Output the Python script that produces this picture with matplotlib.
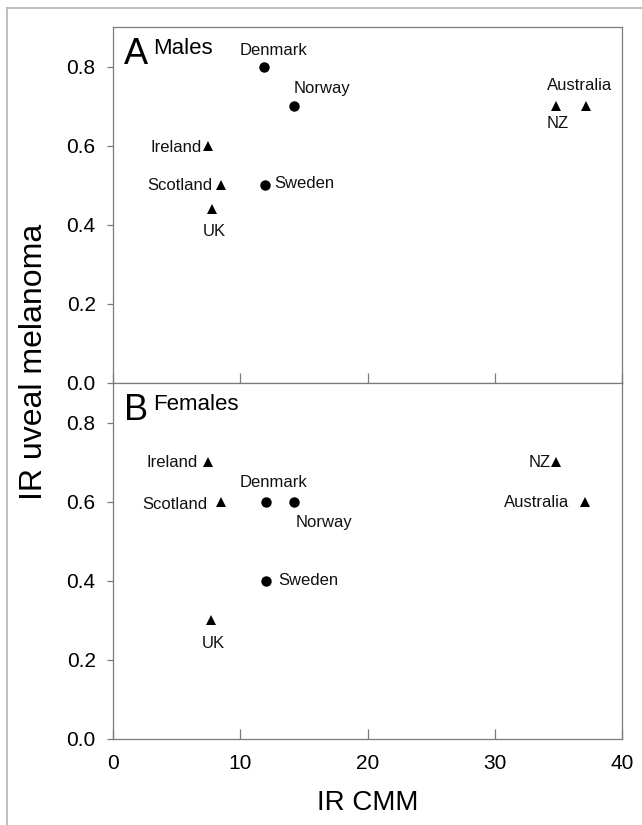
import matplotlib
matplotlib.use("Agg")
import matplotlib.pyplot as plt
from matplotlib.lines import Line2D

plt.rcParams["font.family"] = ["Liberation Sans", "DejaVu Sans"]

# ---------- data ----------
countries = ["Denmark", "Norway", "Sweden", "Ireland", "Scotland", "UK", "NZ", "Australia"]
nordic = ["Denmark", "Norway", "Sweden"]          # drawn as circles, rest triangles

cmm_males = [11.9, 14.2, 11.95, 7.5, 8.45, 7.75, 34.8, 37.2]
uveal_males = [0.80, 0.70, 0.50, 0.60, 0.50, 0.44, 0.70, 0.70]

cmm_females = [12.0, 14.2, 12.0, 7.5, 8.5, 7.7, 34.85, 37.1]
uveal_females = [0.60, 0.60, 0.40, 0.70, 0.60, 0.30, 0.70, 0.60]

yticks = [0.0, 0.2, 0.4, 0.6, 0.8]
xticks = [0, 10, 20, 30, 40]

# ---------- label placement (pixel offsets from marker, baseline) ----------
LAB_M = {"Denmark": (9.5, 12, "center"), "Norway": (28.7, 12.7, "center"),
         "Sweden": (9.7, -2.7, "left"), "Ireland": (-6.3, -6.7, "right"),
         "Scotland": (-8, -5, "right"), "UK": (3, -27.3, "center"),
         "NZ": (1.8, -22, "center"), "Australia": (-7.2, 16.4, "center")}
LAB_F = {"Denmark": (8.2, 15, "center"), "Norway": (30.3, -25, "center"),
         "Sweden": (12.3, -4, "left"), "Ireland": (-11, -5, "right"),
         "Scotland": (-13.4, -7.3, "right"), "UK": (2.5, -27.3, "center"),
         "NZ": (-6.2, -5, "right"), "Australia": (-15.5, -5.7, "right")}

SPINE = "#7a7a7a"
W, H = 642, 825
fig = plt.figure(figsize=(W / 100, H / 100), dpi=100)

# outer light frame (left + top lines)
fig.add_artist(Line2D([7 / W, 7 / W], [0, 1 - 8 / H], transform=fig.transFigure,
                      color="#b4b4b4", lw=1.2))
fig.add_artist(Line2D([7 / W, 1], [1 - 8 / H, 1 - 8 / H], transform=fig.transFigure,
                      color="#b4b4b4", lw=1.2))

left, width = 113 / W, (622 - 113) / W
ph = (383 - 27) / H
ax_top = fig.add_axes([left, 1 - 383 / H, width, ph])
ax_bot = fig.add_axes([left, 1 - 739 / H, width, ph])


def panel(ax, xs, ys, labels, letter, word, show_x):
    for c, x, y in zip(countries, xs, ys):
        mk = "o" if c in nordic else "^"
        ax.plot(x, y, marker=mk, ms=7.5, color="black", mew=0, ls="none")
        dx, dy, ha = labels[c]
        ax.annotate(c, (x, y), xytext=(dx, dy), textcoords="offset pixels",
                    ha=ha, va="baseline", fontsize=12, color="#111111")
    ax.set_xlim(0, 40)
    ax.set_ylim(0, 0.9)
    ax.set_yticks(yticks)
    ax.set_yticklabels([f"{v:.1f}" for v in yticks])
    ax.set_xticks(xticks)
    if show_x:
        ax.set_xticklabels([str(v) for v in xticks])
    else:
        ax.set_xticklabels([])
    ax.tick_params(axis="y", direction="out", length=4, width=0.9, color=SPINE,
                   pad=8.5, labelsize=15)
    ax.tick_params(axis="x", direction="in", length=7, width=0.9, color=SPINE,
                   pad=10.5, labelsize=15)
    for s in ax.spines.values():
        s.set_color(SPINE)
        s.set_linewidth(0.9)
    ax.annotate(letter, (0, 1), xycoords="axes fraction", xytext=(11, -37),
                textcoords="offset pixels", ha="left", va="baseline", fontsize=26)
    ax.annotate(word, (0, 1), xycoords="axes fraction", xytext=(40.5, -27.5),
                textcoords="offset pixels", ha="left", va="baseline", fontsize=16)


panel(ax_top, cmm_males, uveal_males, LAB_M, "A", "Males", False)
panel(ax_bot, cmm_females, uveal_females, LAB_F, "B", "Females", True)

fig.text(34 / W, 1 - 362 / H, "IR uveal melanoma", rotation=90, ha="center",
         va="center", fontsize=23)
fig.text(367.5 / W, 1 - 803 / H, "IR CMM", ha="center", va="center", fontsize=20)

fig.savefig("out.png", dpi=100, facecolor="white")
